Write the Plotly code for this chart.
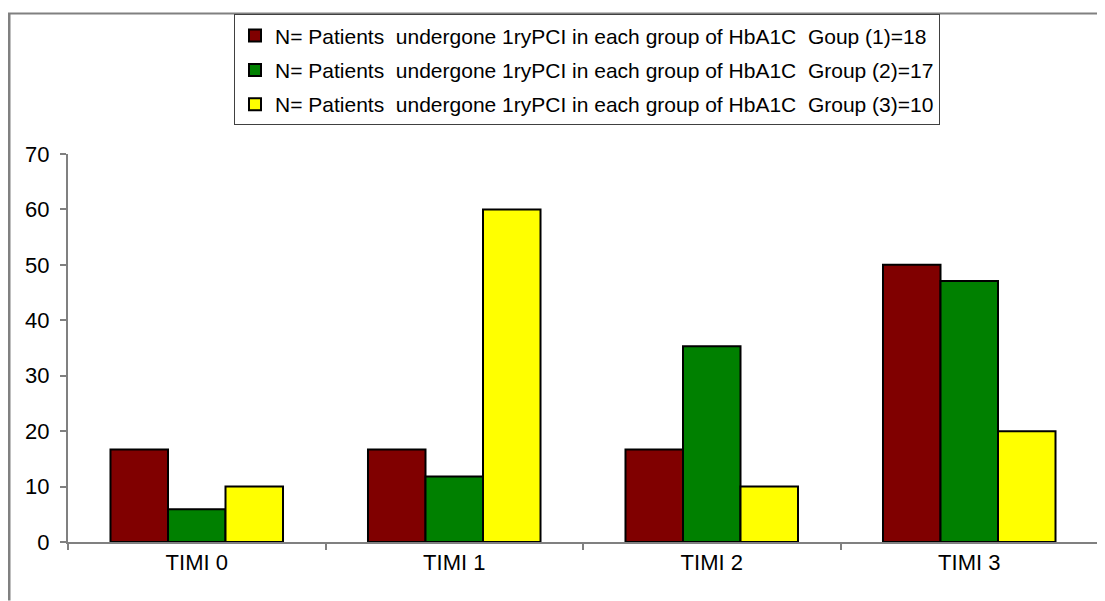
import plotly.graph_objects as go

categories = ["TIMI 0", "TIMI 1", "TIMI 2", "TIMI 3"]
group1 = [16.7, 16.7, 16.7, 50.0]
group2 = [5.9, 11.8, 35.3, 47.1]
group3 = [10.0, 60.0, 10.0, 20.0]
names = [
    "N= Patients\u00a0 undergone 1ryPCI in each group of HbA1C\u00a0 Goup (1)=18",
    "N= Patients\u00a0 undergone 1ryPCI in each group of HbA1C\u00a0 Group (2)=17",
    "N= Patients\u00a0 undergone 1ryPCI in each group of HbA1C\u00a0 Group (3)=10",
]
colors = ["#800000", "#008000", "#FFFF00"]

OFF = 8  # page body margin
W, H = 1105 - OFF, 601 - OFF
ml, mr, mt, mb = 68 - OFF, 7, 150 - OFF, 601 - 542
pw, ph = W - ml - mr, H - mt - mb

def px(x):
    return (x - OFF - ml) / pw

def py(y):
    return (H - mb - (y - OFF)) / ph

fig = go.Figure()
for i, (vals, nm, col) in enumerate(zip([group1, group2, group3], names, colors)):
    fig.add_trace(go.Bar(
        x=categories, y=vals, name=nm, legendgroup=f"g{i}",
        marker=dict(color=col, line=dict(color="black", width=2)),
    ))

fig.update_layout(
    width=W, height=H,
    margin=dict(l=ml, r=mr, t=mt, b=mb, pad=0),
    paper_bgcolor="white", plot_bgcolor="white",
    font=dict(family="Liberation Sans, Arial, sans-serif", size=22, color="black"),
    barmode="group", bargap=0.33, bargroupgap=0,
    showlegend=True,
    legend=dict(
        x=px(234), y=py(9), xanchor="left", yanchor="top",
        bordercolor="#404040", borderwidth=1, bgcolor="white",
        font=dict(size=21), tracegroupgap=4, itemwidth=30,
    ),
    xaxis=dict(
        showline=True, linecolor="#808080", linewidth=2,
        ticks="outside", tickson="boundaries", ticklen=6, tickcolor="#808080", tickwidth=2,
        showgrid=False, zeroline=False,
    ),
    yaxis=dict(
        range=[0, 70], dtick=10, showline=True, linecolor="#808080", linewidth=2,
        ticks="outside", ticklen=6, tickcolor="#808080", tickwidth=2,
        showgrid=False, zeroline=False, ticklabelstandoff=6,
    ),
    shapes=[
        dict(type="line", xref="paper", yref="paper", x0=px(8), x1=px(1105), y0=py(8), y1=py(8),
             line=dict(color="#808080", width=2)),
        dict(type="line", xref="paper", yref="paper", x0=px(9), x1=px(9), y0=py(8), y1=py(601),
             line=dict(color="#808080", width=3)),
    ],
)

fig.write_html("out.html")
